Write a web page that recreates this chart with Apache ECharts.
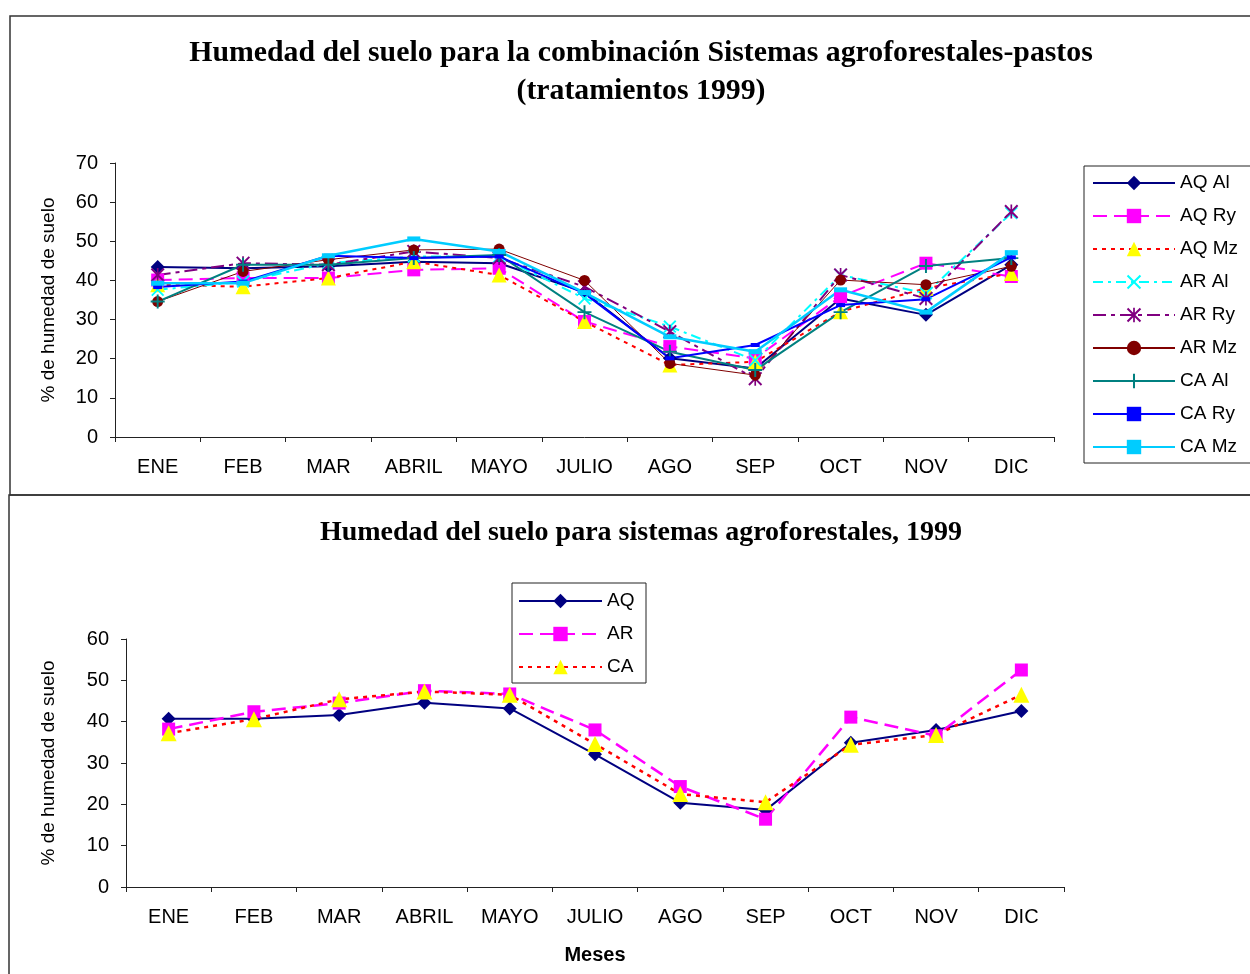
<!DOCTYPE html>
<html>
<head>
<meta charset="utf-8">
<script src="https://cdn.jsdelivr.net/npm/echarts@6/dist/echarts.min.js"></script>
<style>
html,body{margin:0;padding:0;background:#fff;}
#c{width:1250px;height:974px;}
</style>
</head>
<body>
<div id="c"></div>
<script>
// ---- data ----
const months = ['ENE','FEB','MAR','ABRIL','MAYO','JULIO','AGO','SEP','OCT','NOV','DIC'];

// top chart: combinations
const aqAl = [43.4, 43.1, 43.6, 44.8, 44.4, 37.0, 20.1, 17.5, 35.4, 31.2, 44.0];
const aqRy = [40.1, 40.6, 40.6, 42.7, 43.1, 29.5, 23.1, 20.1, 35.9, 44.4, 41.0];
const aqMz = [38.9, 38.4, 40.6, 44.8, 41.4, 29.5, 18.4, 19.2, 32.0, 38.0, 41.8];
const arAl = [37.6, 39.7, 44.4, 46.1, 46.1, 35.4, 28.2, 19.6, 41.4, 36.7, 57.2];
const arRy = [41.4, 44.4, 44.0, 47.4, 45.7, 38.4, 26.9, 14.9, 41.4, 35.4, 57.6];
const arMz = [34.6, 42.3, 45.3, 47.8, 48.0, 40.0, 18.8, 15.8, 40.1, 38.9, 43.6];
const caAl = [34.6, 44.0, 44.0, 45.7, 46.5, 31.9, 21.8, 17.1, 31.9, 43.7, 45.7];
const caRy = [38.3, 39.7, 46.3, 45.7, 46.1, 36.7, 20.1, 23.5, 33.7, 35.2, 45.9];
const caMz = [39.3, 39.3, 46.3, 50.6, 47.4, 36.9, 25.6, 21.8, 37.6, 31.9, 47.1];

// bottom chart: systems
const aq = [40.7, 40.7, 41.6, 44.6, 43.2, 32.1, 20.4, 18.6, 34.9, 38.0, 42.6];
const ar = [38.2, 42.4, 44.5, 47.5, 46.7, 38.0, 24.3, 16.4, 41.1, 36.6, 52.5];
const ca = [37.2, 40.6, 45.4, 47.3, 46.5, 34.6, 22.5, 20.5, 34.4, 36.8, 46.5];

const title1 = 'Humedad del suelo para la combinación Sistemas agroforestales-pastos\n(tratamientos 1999)';
const title2 = 'Humedad del suelo para sistemas agroforestales, 1999';
const yName = '% de humedad de suelo';
const xName = 'Meses';

// ---- styling ----
const SANS = '"Liberation Sans", Arial, sans-serif';
const SERIF = '"Liberation Serif", "Times New Roman", serif';
const X_PATH = 'path://M0,1 L1,0 L5,4 L9,0 L10,1 L6,5 L10,9 L9,10 L5,6 L1,10 L0,9 L4,5 Z';
const AST_PATH = 'path://M0,1 L1,0 L5,4 L9,0 L10,1 L6,5 L10,9 L9,10 L5,6 L1,10 L0,9 L4,5 Z M4.4,0 L5.6,0 L5.6,10 L4.4,10 Z';
const PLUS_PATH = 'path://M4.3,0 L5.7,0 L5.7,4.3 L10,4.3 L10,5.7 L5.7,5.7 L5.7,10 L4.3,10 L4.3,5.7 L0,5.7 L0,4.3 L4.3,4.3 Z';

function ser(name, data, xi, lineColor, markColor, width, type, symbol, size) {
  return {
    name: name, type: 'line', data: data,
    xAxisIndex: xi, yAxisIndex: xi,
    symbol: symbol, symbolSize: size, showSymbol: true,
    lineStyle: {color: lineColor, width: width, type: type},
    itemStyle: {color: markColor, borderWidth: 0},
    emphasis: {disabled: true},
    animation: false
  };
}

const axisLineStyle = {lineStyle: {color: '#222', width: 1}};

function xAx(gi) {
  return {
    type: 'category', data: months, gridIndex: gi, boundaryGap: true,
    axisLine: axisLineStyle,
    axisTick: {show: true, length: 5, lineStyle: {color: '#222'}},
    axisLabel: {color: '#000', fontFamily: SANS, fontSize: 20, margin: 20, interval: 0},
    splitLine: {show: false}
  };
}
function yAx(gi, max, gap) {
  return {
    type: 'value', gridIndex: gi, min: 0, max: max, interval: 10,
    axisLine: {show: true, lineStyle: {color: '#222', width: 1}},
    axisTick: {show: true, length: 5, lineStyle: {color: '#222'}},
    axisLabel: {color: '#000', fontFamily: SANS, fontSize: 20, margin: 17},
    splitLine: {show: false},
    name: yName, nameLocation: 'middle', nameGap: gap,
    nameTextStyle: {color: '#000', fontFamily: SANS, fontSize: 19}
  };
}

const chart = echarts.init(document.getElementById('c'), null, {renderer: 'canvas'});
const xa2 = xAx(1);
xa2.name = xName; xa2.nameLocation = 'middle'; xa2.nameGap = 58;
xa2.nameTextStyle = {color: '#000', fontFamily: SANS, fontSize: 20, fontWeight: 'bold'};

chart.setOption({
  backgroundColor: '#fff',
  animation: false,
  title: [
    {text: title1, left: 636, top: 29, textAlign: 'center',
     textStyle: {fontFamily: SERIF, fontSize: 29.8, fontWeight: 'bold', color: '#000', lineHeight: 38}},
    {text: title2, left: 636, top: 512, textAlign: 'center',
     textStyle: {fontFamily: SERIF, fontSize: 28, fontWeight: 'bold', color: '#000', lineHeight: 32}}
  ],
  grid: [
    {left: 115, top: 163, width: 939, height: 274},
    {left: 126, top: 639, width: 938, height: 248}
  ],
  xAxis: [xAx(0), xa2],
  yAxis: [yAx(0, 70, 57), yAx(1, 60, 68)],
  legend: [
    {orient: 'vertical', left: 1092, top: 173, itemWidth: 82, itemHeight: 18, itemGap: 13,
     padding: 0, selectedMode: false,
     textStyle: {fontFamily: SANS, fontSize: 19, color: '#000', lineHeight: 20},
     data: ['AQ Al','AQ Ry','AQ Mz','AR Al','AR Ry','AR Mz','CA Al','CA Ry','CA Mz']},
    {orient: 'vertical', left: 518, top: 591, itemWidth: 83, itemHeight: 18, itemGap: 13,
     padding: 0, selectedMode: false,
     textStyle: {fontFamily: SANS, fontSize: 19, color: '#000', lineHeight: 20},
     data: ['AQ','AR','CA']}
  ],
  graphic: [
    {type: 'rect', shape: {x: 10, y: 16, width: 1260, height: 479}, style: {fill: 'none', stroke: '#333', lineWidth: 1.5}, z: -1},
    {type: 'rect', shape: {x: 9, y: 495, width: 1260, height: 500}, style: {fill: 'none', stroke: '#333', lineWidth: 1.5}, z: -1},
    {type: 'rect', shape: {x: 1084, y: 166, width: 200, height: 297}, style: {fill: 'none', stroke: '#222', lineWidth: 1}, z: -1},
    {type: 'rect', shape: {x: 512, y: 583, width: 134, height: 100}, style: {fill: 'none', stroke: '#222', lineWidth: 1}, z: -1}
  ],
  series: [
    ser('AQ Al', aqAl, 0, '#000080', '#000080', 2, 'solid', 'diamond', 14),
    ser('AQ Ry', aqRy, 0, '#FF00FF', '#FF00FF', 2, [14, 7], 'rect', 13),
    ser('AQ Mz', aqMz, 0, '#FF0000', '#FFFF00', 2, [4, 5], 'triangle', 15),
    ser('AR Al', arAl, 0, '#00FFFF', '#00FFFF', 2, [10, 5, 3, 5], X_PATH, 13),
    ser('AR Ry', arRy, 0, '#800080', '#800080', 2, [13, 5, 4, 5], AST_PATH, 14),
    ser('AR Mz', arMz, 0, '#800000', '#800000', 1, 'solid', 'circle', 11),
    ser('CA Al', caAl, 0, '#008080', '#008080', 2, 'solid', PLUS_PATH, 14),
    ser('CA Ry', caRy, 0, '#0000FF', '#0000FF', 2, 'solid', 'rect', [9, 4]),
    ser('CA Mz', caMz, 0, '#00CCFF', '#00CCFF', 2.5, 'solid', 'rect', [13, 5]),
    ser('AQ', aq, 1, '#000080', '#000080', 2, 'solid', 'diamond', 14),
    ser('AR', ar, 1, '#FF00FF', '#FF00FF', 2.5, [14, 7], 'rect', 13),
    ser('CA', ca, 1, '#FF0000', '#FFFF00', 2.5, [4, 5], 'triangle', 16)
  ]
});
</script>
</body>
</html>
